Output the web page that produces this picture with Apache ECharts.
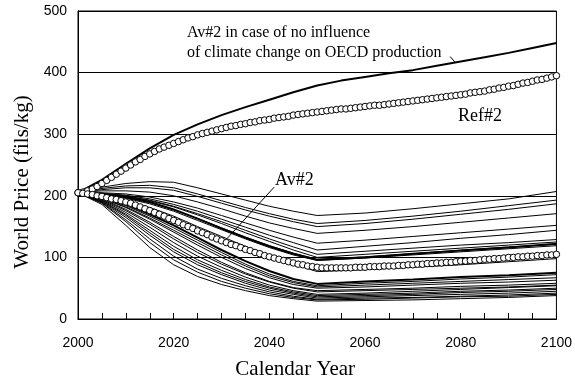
<!DOCTYPE html>
<html><head><meta charset="utf-8">
<script src="https://cdn.jsdelivr.net/npm/echarts@6/dist/echarts.min.js"></script>
<style>html,body{margin:0;padding:0;background:#fff}#c{width:575px;height:385px}</style>
</head><body><div id="c"></div>
<script>
// ---------- DATA ----------
const xTickLabels = ['2000', '2020', '2040', '2060', '2080', '2100'];
const yTickLabels = ['0', '100', '200', '300', '400', '500'];
const xTitle = 'Calendar Year';
const yTitle = 'World Price (fils/kg)';

// years for scenario lines
const yearsLine = [2000,2005,2010,2015,2020,2025,2030,2035,2040,2045,2050,2060,2070,2080,2090,2100];
// years for top thick line
const yearsFive = [2000,2005,2010,2015,2020,2025,2030,2035,2040,2045,2050,2055,2060,2065,2070,2075,2080,2085,2090,2095,2100];

// Av#2 in case of no influence of climate change on OECD production
const avNoInfluence = [205,226,252,277,299,316,331,344,356,368,379,387,393,399,404,411,418,425,432,440,448];

// Ref#2 (circles, annual 2000..2100)
const ref2 = [205,206,208,211,215,220,225,230,235,240,
 245,250,255,259,264,268,272,276,279,282,
 285,288,291,294,296,299,301,303,305,307,
 309,311,313,314,316,317,319,320,322,323,
 324,326,327,328,329,331,332,333,334,335,
 336,337,338,339,340,341,341,342,343,344,
 345,346,347,347,348,349,350,351,352,353,
 354,355,356,357,358,359,360,361,362,363,
 364,365,367,368,369,370,372,373,375,376,
 378,379,381,383,384,386,388,389,391,393,
 395];

// Av#2 (circles, annual 2000..2100)
const av2 = [205,204,203,202,200,199,197,195,194,192,
 190,188,185,182,179,176,173,170,167,163,
 160,157,153,150,147,143,140,137,133,130,
 127,124,121,119,116,113,111,108,106,103,
 101,99,97,95,93,91,89,88,86,85,
 84,83,83,83,83,83,83,83,84,84,
 84,85,85,85,86,86,86,87,87,88,
 88,89,89,90,90,91,91,92,92,93,
 94,94,95,95,96,97,97,98,98,99,
 100,100,101,101,102,102,103,103,104,104,
 105];

// individual scenario lines (values at yearsLine)
const scenA1 = [205,214,220,223,222,213,203,193,183,175,168,172,179,187,195,207];
const scenA2 = [205,212,216,217,213,203,192,181,171,162,155,160,167,175,184,193];
const scenA3 = [205,210,213,213,209,199,188,177,167,158,150,155,162,170,178,187];
const scenA4 = [205,208,208,206,200,190,179,167,156,147,139,144,150,157,164,171];
const scenB1 = [205,205,203,198,190,180,168,156,144,133,123,128,134,140,146,152];
const scenB2 = [205,204,201,195,186,175,162,149,136,124,112,118,124,131,137,144];
const scenB3 = [205,204,200,193,183,171,158,144,130,117,105,110,115,120,124,129];
const scenB4 = [205,203,199,192,182,169,155,140,126,112,100,105,110,115,120,125];
const scenB5 = [205,203,198,190,178,163,147,132,118,106,96,100,106,111,116,122];
const scenB6 = [205,202,197,189,177,163,148,133,119,107,97,101,106,112,117,121];
const scenB7 = [205,202,196,187,175,160,145,130,116,104,95,99,104,109,114,119];
const scenB8 = [205,200,192,181,167,150,134,118,103,89,77,80,84,88,93,98];
const scenC1 = [205,198,186,170,152,132,112,94,78,65,57,61,64,68,71,75];
const scenC2 = [205,197,184,167,148,128,108,89,73,61,54,58,61,65,68,72];
const scenC3 = [205,196,182,164,144,124,104,86,70,59,52,55,58,61,64,67];
const scenC4 = [205,196,181,162,141,120,100,82,67,56,50,52,55,58,60,63];
const scenC5 = [205,195,178,157,134,112,92,75,61,51,46,48,50,53,55,58];
const scenC6 = [205,194,176,154,130,108,89,73,60,50,44,46,48,50,52,55];
const scenC7 = [205,193,173,149,124,102,84,68,55,46,40,42,45,48,51,54];
const scenC8 = [205,192,170,144,118,96,79,64,52,44,38,40,42,45,47,50];
const scenC9 = [205,191,168,140,113,92,75,61,50,42,36,38,40,43,45,48];
const scenC10 = [205,190,165,136,109,88,72,58,47,40,34,36,38,40,42,45];
const scenC11 = [205,189,161,130,102,81,66,54,44,37,32,34,35,37,39,42];
const scenC12 = [205,188,158,124,96,76,61,50,41,35,31,32,34,36,37,40];
const scenC13 = [205,186,152,116,88,69,56,46,38,33,29,30,31,33,35,38];

const thinLines = [scenA1,scenA2,scenA3,scenA4,scenB1,scenB2,scenB3,scenB4,scenB6,scenB7,scenB8,
  scenC2,scenC3,scenC4,scenC5,scenC6,scenC7,scenC8,scenC9,scenC10,scenC11,scenC12,scenC13];
const boldLines = [scenB5, scenC1];

// ---------- CHART ----------
const SERIF = '"Liberation Serif","Times New Roman",serif';
const SANS = '"Liberation Sans",Arial,sans-serif';
const years = [];
for (let y = 2000; y <= 2100; y++) years.push(y);
const pair = (xs, vs) => xs.map((x, i) => [x, vs[i]]);

const series = [];
thinLines.forEach(v => series.push({
  type: 'line', data: pair(yearsLine, v), symbol: 'none', silent: true,
  lineStyle: { color: '#000', width: 1 }, z: 2
}));
boldLines.forEach(v => series.push({
  type: 'line', data: pair(yearsLine, v), symbol: 'none', silent: true,
  lineStyle: { color: '#000', width: 2 }, z: 3
}));
series.push({
  type: 'line', data: pair(yearsFive, avNoInfluence), symbol: 'none', silent: true,
  lineStyle: { color: '#000', width: 2 }, z: 3
});
[ref2, av2].forEach(v => series.push({
  type: 'line', data: pair(years, v), symbol: 'circle', symbolSize: 6.5, showAllSymbol: true,
  silent: true, lineStyle: { width: 0, opacity: 0 },
  itemStyle: { color: '#fff', borderColor: '#000', borderWidth: 1 }, z: 5
}));

const chart = echarts.init(document.getElementById('c'), null, { renderer: 'canvas' });
chart.setOption({
  animation: false,
  backgroundColor: '#fff',
  grid: { left: 78, right: 16, top: 11, bottom: 64, show: true, borderColor: '#000', borderWidth: 1, backgroundColor: 'transparent' },
  xAxis: {
    type: 'value', min: 2000, max: 2100, interval: 5,
    name: xTitle, nameLocation: 'middle', nameGap: 40,
    nameTextStyle: { fontFamily: SERIF, fontSize: 21, color: '#000', padding: [0, 44, 0, 0] },
    axisLine: { lineStyle: { color: '#000', width: 1 } },
    axisTick: { show: true, inside: true, length: 6, lineStyle: { color: '#000' } },
    axisLabel: { margin: 17, fontFamily: SANS, fontSize: 14, color: '#000',
      formatter: v => xTickLabels.indexOf(String(v)) >= 0 ? String(v) : '' },
    splitLine: { show: false }
  },
  yAxis: {
    type: 'value', min: 0, max: 500, interval: 100,
    name: yTitle, nameLocation: 'middle', nameGap: 45,
    nameTextStyle: { fontFamily: SERIF, fontSize: 21, color: '#000', padding: [0, 34, 0, 0] },
    axisLine: { show: true, lineStyle: { color: '#000', width: 1 } },
    axisTick: { show: false },
    axisLabel: { margin: 11, fontFamily: SANS, fontSize: 14, color: '#000',
      formatter: v => yTickLabels[v / 100] },
    splitLine: { show: true, lineStyle: { color: '#000', width: 1 } }
  },
  series: series
});

// annotations (leaders anchored in data space)
const leaderTop = [[2077.8, 426], [2078.9, 416]];
const leaderAv = [[2041.0, 214], [2031.2, 131]];
const px = p => chart.convertToPixel({ gridIndex: 0 }, p);
const mkLine = l => { const a = px(l[0]), b = px(l[1]);
  return { type: 'line', shape: { x1: a[0], y1: a[1], x2: b[0], y2: b[1] }, style: { stroke: '#000', lineWidth: 1 }, z: 10 }; };
const mkText = (t, x, y, fs) => ({ type: 'text', x: x, y: y, z: 10,
  style: { text: t, font: fs + 'px ' + SERIF, fill: '#000', textVerticalAlign: 'middle', verticalAlign: 'middle' } });
chart.setOption({ graphic: [
  mkText('Av#2 in case of no influence', 187, 33, 16),
  mkText('of climate change on OECD production', 187, 53, 16),
  mkText('Ref#2', 458, 116, 18),
  mkText('Av#2', 275, 180, 18),
  mkLine(leaderTop),
  mkLine(leaderAv)
]});
</script>
</body></html>
